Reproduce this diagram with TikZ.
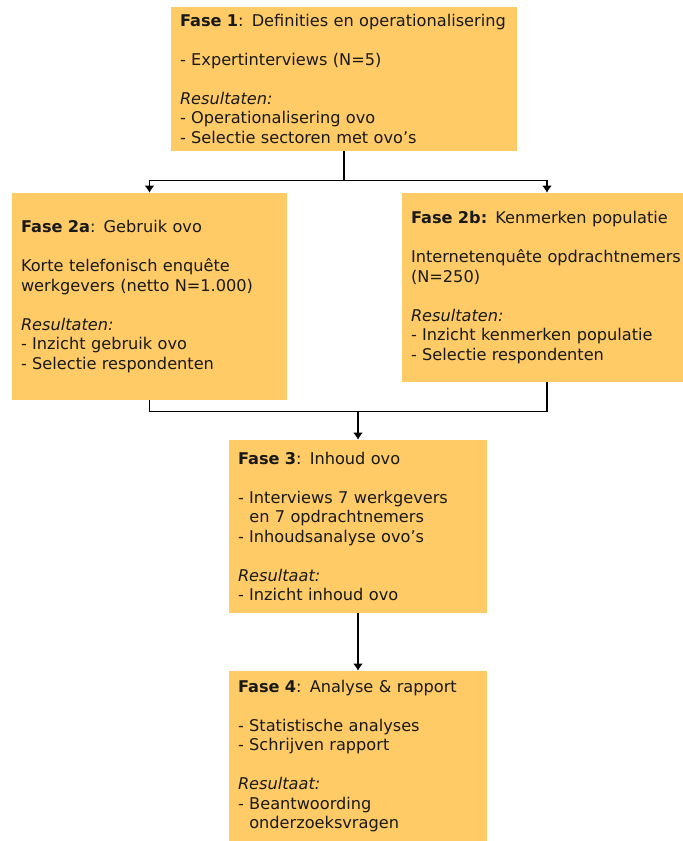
\documentclass[tikz,border=0pt]{standalone}
\usepackage{fontspec}
\setmainfont{DejaVu Sans}
\usetikzlibrary{arrows.meta}
\definecolor{fasegeel}{HTML}{FECB66}

\begin{document}
\begin{tikzpicture}[
        fase/.style={fill=fasegeel, inner xsep=0.18cm, inner ysep=0pt, align=left,
                     font=\fontsize{9.2}{11.1}\selectfont, text=black!90},
        pijl/.style={semithick, ->, >={Latex[length=4pt,width=5.5pt]}}]
        \useasboundingbox (0,0) rectangle (13.66,-16.82);
        \node[fase, text width=6.56cm, minimum height=2.88cm] (fase1) at (6.88,-1.58)
            {\textbf{Fase 1}: Definities en operationalisering\\[11pt]
             - Expertinterviews (N=5)\\[11pt]
             \textit{Resultaten:}\\
             - Operationalisering ovo\\
             - Selectie sectoren met ovo’s};
        \node[fase, text width=5.14cm, minimum height=4.14cm] (fase2a) at (2.99,-5.93)
            {\textbf{Fase 2a}: Gebruik ovo\\[11pt]
             Korte telefonisch enquête\\
             werkgevers (netto N=1.000)\\[11pt]
             \textit{Resultaten:}\\
             - Inzicht gebruik ovo\\
             - Selectie respondenten};
        \node[fase, text width=5.26cm, minimum height=3.78cm] (fase2b) at (10.85,-5.75)
            {\textbf{Fase 2b:} Kenmerken populatie\\[11pt]
             \mbox{Internetenquête opdrachtnemers}\\
             (N=250)\\[11pt]
             \textit{Resultaten:}\\
             - Inzicht kenmerken populatie\\
             - Selectie respondenten};
        \node[fase, text width=4.80cm, minimum height=3.46cm] (fase3) at (7.16,-10.53)
            {\textbf{Fase 3}: Inhoud ovo\\[11pt]
             - Interviews 7 werkgevers\\
             \hspace*{0.7em}en 7 opdrachtnemers\\
             - Inhoudsanalyse ovo’s\\[11pt]
             \textit{Resultaat:}\\
             - Inzicht inhoud ovo};
        \node[fase, text width=4.80cm, minimum height=3.40cm] (fase4) at (7.16,-15.12)
            {\textbf{Fase 4}: Analyse \& rapport\\[11pt]
             - Statistische analyses\\
             - Schrijven rapport\\[11pt]
             \textit{Resultaat:}\\
             - Beantwoording\\
             \hspace*{0.7em}onderzoeksvragen};
        % splitsing na fase 1
        \path (fase1.south) ++(0,-0.58) coordinate (splitsing);
        \draw[semithick] (fase1.south) -- (splitsing);
        \draw[pijl] (splitsing) -| (fase2a.north);
        \draw[pijl] (splitsing) -| ([xshift=0.09cm]fase2b.north);
        % samenkomst voor fase 3
        \path (fase3.north) ++(0,0.56) coordinate (samen);
        \draw[semithick] (fase2a.south) |- (samen);
        \draw[semithick] ([xshift=0.09cm]fase2b.south) |- (samen);
        \draw[pijl] (samen) -- (fase3.north);
        \draw[pijl] (fase3.south) -- (fase4.north);
\end{tikzpicture}
\end{document}
